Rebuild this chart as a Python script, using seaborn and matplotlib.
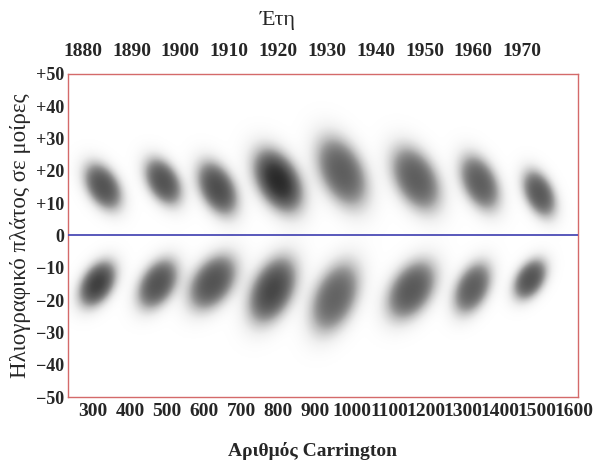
import numpy as np
import matplotlib
matplotlib.use("Agg")
import matplotlib.pyplot as plt
import seaborn as sns

# ---- data ----
carr_ticks = [300, 400, 500, 600, 700, 800, 900, 1000, 1100, 1200, 1300, 1400, 1500, 1600]
year_ticks = [1880, 1890, 1900, 1910, 1920, 1930, 1940, 1950, 1960, 1970]
lat_ticks = [50, 40, 30, 20, 10, 0, -10, -20, -30, -40, -50]
lat_labels = ["+50", "+40", "+30", "+20", "+10", "0", "\u221210", "\u221220", "\u221230", "\u221240", "\u221250"]

# northern-hemisphere spot clouds: centre (Carrington no., latitude), half extents, darkness
north_c = [326, 489, 636, 800, 973, 1173, 1346, 1507]
north_lat = [15.2, 16.7, 14.6, 17.0, 19.7, 17.6, 16.4, 13.0]
north_hc = [69, 68, 74, 90, 93, 90, 73, 61]
north_hl = [9.8, 9.8, 11.3, 13.2, 14.7, 13.5, 11.6, 9.8]
north_amp = [0.74, 0.74, 0.76, 0.86, 0.70, 0.70, 0.70, 0.72]

# southern-hemisphere spot clouds
south_c = [311, 474, 623, 785, 954, 1161, 1326, 1482]
south_lat = [-15.0, -15.0, -14.5, -16.9, -19.2, -16.9, -16.3, -13.6]
south_hc = [68, 74, 88, 88, 89, 90, 69, 61]
south_hl = [9.6, 10.5, 11.6, 13.9, 14.7, 12.4, 10.8, 8.5]
south_amp = [0.80, 0.74, 0.74, 0.78, 0.68, 0.72, 0.70, 0.74]

sns.set_theme(style="white")
plt.rcParams["font.family"] = ["Liberation Serif", "DejaVu Serif"]

fig = plt.figure(figsize=(6.02, 4.65), dpi=100)
ax = fig.add_axes([68 / 602, 1 - 397 / 465, (578 - 68) / 602, (397 - 74) / 465])

xmin, xmax = 232, 1611
C, L = np.meshgrid(np.linspace(xmin, xmax, 900), np.linspace(-50, 50, 500))
field = np.zeros_like(C)
K = 3.0


def add(cs, ls, hcs, hls, amps, rho):
    global field
    for c0, l0, hc, hl, a in zip(cs, ls, hcs, hls, amps):
        sx, sy = hc / 2.4, hl / 2.4
        dx = (C - c0) / sx
        dy = (L - l0) / sy
        q = (dx ** 2 - 2 * rho * dx * dy + dy ** 2) / (1 - rho ** 2)
        g = np.exp(-q / 2)
        field += a * (1 - np.exp(-K * g)) / (1 - np.exp(-K))


add(north_c, north_lat, north_hc, north_hl, north_amp, -0.4)
add(south_c, south_lat, south_hc, south_hl, south_amp, 0.4)
field = np.clip(field, 0, 1)

ax.imshow(field, extent=[xmin, xmax, -50, 50], origin="lower", aspect="auto",
          cmap="Greys", vmin=0, vmax=1, interpolation="bilinear", zorder=1)
ax.axhline(0, color="#4b4bb5", lw=1.3, zorder=3)

ax.set_xlim(xmin, xmax)
ax.set_ylim(-50, 50)
ax.set_xticks(carr_ticks)
ax.set_xticklabels([str(v) for v in carr_ticks])
ax.set_yticks(lat_ticks)
ax.set_yticklabels(lat_labels)
ax.tick_params(axis="x", length=0, labelsize=14, pad=4)
ax.tick_params(axis="y", length=0, labelsize=13, pad=3)
for lab in ax.get_xticklabels() + ax.get_yticklabels():
    lab.set_fontweight("bold")
for sp in ax.spines.values():
    sp.set_color("#d46a6a")
    sp.set_linewidth(1.0)
    sp.set_visible(True)


def y2c(y):
    return 866 + 13.2 * (np.asarray(y) - 1925)


def c2y(c):
    return 1925 + (np.asarray(c) - 866) / 13.2


sec = ax.secondary_xaxis("top", functions=(c2y, y2c))
sec.set_xticks(year_ticks)
sec.set_xticklabels([str(v) for v in year_ticks])
sec.tick_params(length=0, labelsize=14, pad=10)
for lab in sec.get_xticklabels():
    lab.set_fontweight("bold")
sec.spines["top"].set_visible(False)

ax.set_xlabel("Αριθμός Carrington", fontsize=14, fontweight="bold")
ax.xaxis.set_label_coords((312 - 68) / 510, -0.14)
ax.set_ylabel("Ηλιογραφικό πλάτος σε μοίρες", fontsize=16.5)
ax.yaxis.set_label_coords(-0.072, 0.5)
fig.text(278 / 602, 1 - 20 / 465, "Έτη", fontsize=16, ha="center", va="center")

fig.savefig("out.png", dpi=100)
